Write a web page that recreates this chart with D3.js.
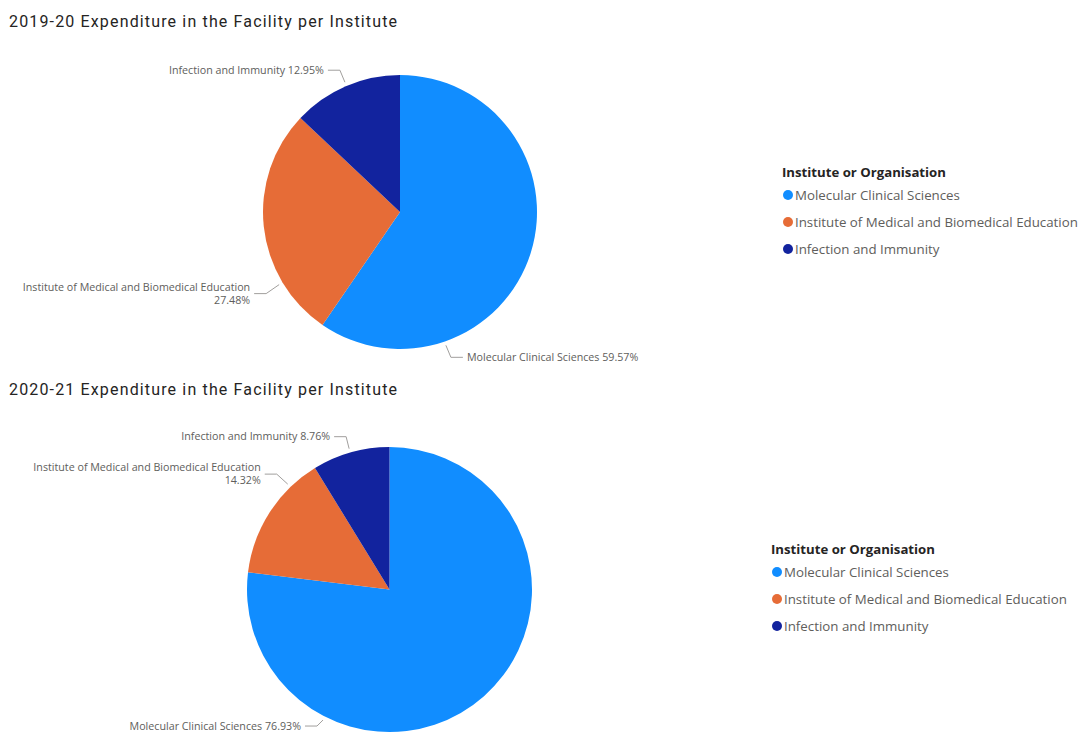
<!DOCTYPE html>
<html>
<head>
<meta charset="utf-8">
<script src="https://cdn.jsdelivr.net/npm/d3@7"></script>
<style>
  body { margin: 0; background: #fff; }
  .title { font-family: Roboto, "DejaVu Sans", sans-serif; font-size: 16px; fill: #252423; letter-spacing: 1.15px; }
  .slice-label { font-family: "Open Sans", sans-serif; font-size: 10.7px; fill: #605E5C; }
  .leader { fill: none; stroke: #A19F9D; stroke-width: 1; }
  .legend-title { font-family: "Open Sans", sans-serif; font-size: 13.2px; font-weight: 700; fill: #252423; }
  .legend-item { font-family: "Open Sans", sans-serif; font-size: 13.3px; fill: #605E5C; }
</style>
</head>
<body>
<svg id="chart" width="1083" height="734"></svg>
<script>
// data
var categories = ["Molecular Clinical Sciences", "Institute of Medical and Biomedical Education", "Infection and Immunity"];
var colors = ["#118DFF", "#E66C37", "#12239E"];
var years = ["2019-20", "2020-21"];
var share1920 = [59.57, 27.48, 12.95];
var share2021 = [76.93, 14.32, 8.76];
var legendTitle = "Institute or Organisation";

// layout for each panel (center, radius, where leader lines touch the pie)
var panels = [
  { values: share1920, title: years[0] + " Expenditure in the Facility per Institute", titleY: 27,
    cx: 400, cy: 212, r: 137, legendX: 788, legendY: 177,
    leaders: [{ angle: 161, dx: 5, dy: 12 }, { angle: 239, dx: -13, dy: 9 }, { angle: 337, dx: -5, dy: -12 }] },
  { values: share2021, title: years[1] + " Expenditure in the Facility per Institute", titleY: 395,
    cx: 389.5, cy: 589.5, r: 142.5, legendX: 777, legendY: 554,
    leaders: [{ angle: 207, dx: -6, dy: 6 }, { angle: 316, dx: -11, dy: -10 }, { angle: 344, dx: -3, dy: -12 }] }
];

var svg = d3.select("#chart");
var color = d3.scaleOrdinal().domain(categories).range(colors);
var pie = d3.pie().sort(null).value(function(d) { return d.value; });

panels.forEach(function(p) {
  var data = categories.map(function(c, i) { return { name: c, value: p.values[i] }; });

  svg.append("text").attr("class", "title")
    .attr("x", 9).attr("y", p.titleY).text(p.title);

  var g = svg.append("g").attr("transform", "translate(" + p.cx + "," + p.cy + ")");
  var arc = d3.arc().innerRadius(0).outerRadius(p.r);

  g.selectAll("path.slice").data(pie(data)).enter().append("path")
    .attr("class", "slice")
    .attr("d", arc)
    .attr("fill", function(d) { return color(d.data.name); });

  // leader lines + labels
  data.forEach(function(d, i) {
    var L = p.leaders[i];
    var a = L.angle * Math.PI / 180;
    var R = p.r + 4;
    var x0 = Math.sin(a) * R, y0 = -Math.cos(a) * R;
    var x1 = x0 + L.dx, y1 = y0 + L.dy;
    var right = L.dx > 0;
    var x2 = x1 + (right ? 12 : -12);
    g.append("path").attr("class", "leader")
      .attr("d", d3.line()([[x0, y0], [x1, y1], [x2, y1]]));

    var tx = x2 + (right ? 4 : -4);
    var label = g.append("text").attr("class", "slice-label")
      .attr("text-anchor", right ? "start" : "end");
    var pct = d3.format(".2f")(d.value) + "%";
    if (d.name.length > 30) {
      label.append("tspan").attr("x", tx).attr("y", y1 - 6.5).attr("dy", "0.35em").text(d.name);
      label.append("tspan").attr("x", tx).attr("y", y1 + 6.5).attr("dy", "0.35em").text(pct);
    } else {
      label.attr("x", tx).attr("y", y1).attr("dy", "0.35em").text(d.name + " " + pct);
    }
  });

  // legend
  var lg = svg.append("g").attr("transform", "translate(" + p.legendX + "," + p.legendY + ")");
  lg.append("text").attr("class", "legend-title").attr("x", -6).attr("y", 0).text(legendTitle);
  var items = lg.selectAll("g.item").data(categories).enter().append("g")
    .attr("class", "item")
    .attr("transform", function(d, i) { return "translate(0," + (18 + i * 27) + ")"; });
  items.append("circle").attr("r", 5).attr("fill", function(d) { return color(d); });
  items.append("text").attr("class", "legend-item").attr("x", 7).attr("dy", "0.35em").text(function(d) { return d; });
});
</script>
</body>
</html>
